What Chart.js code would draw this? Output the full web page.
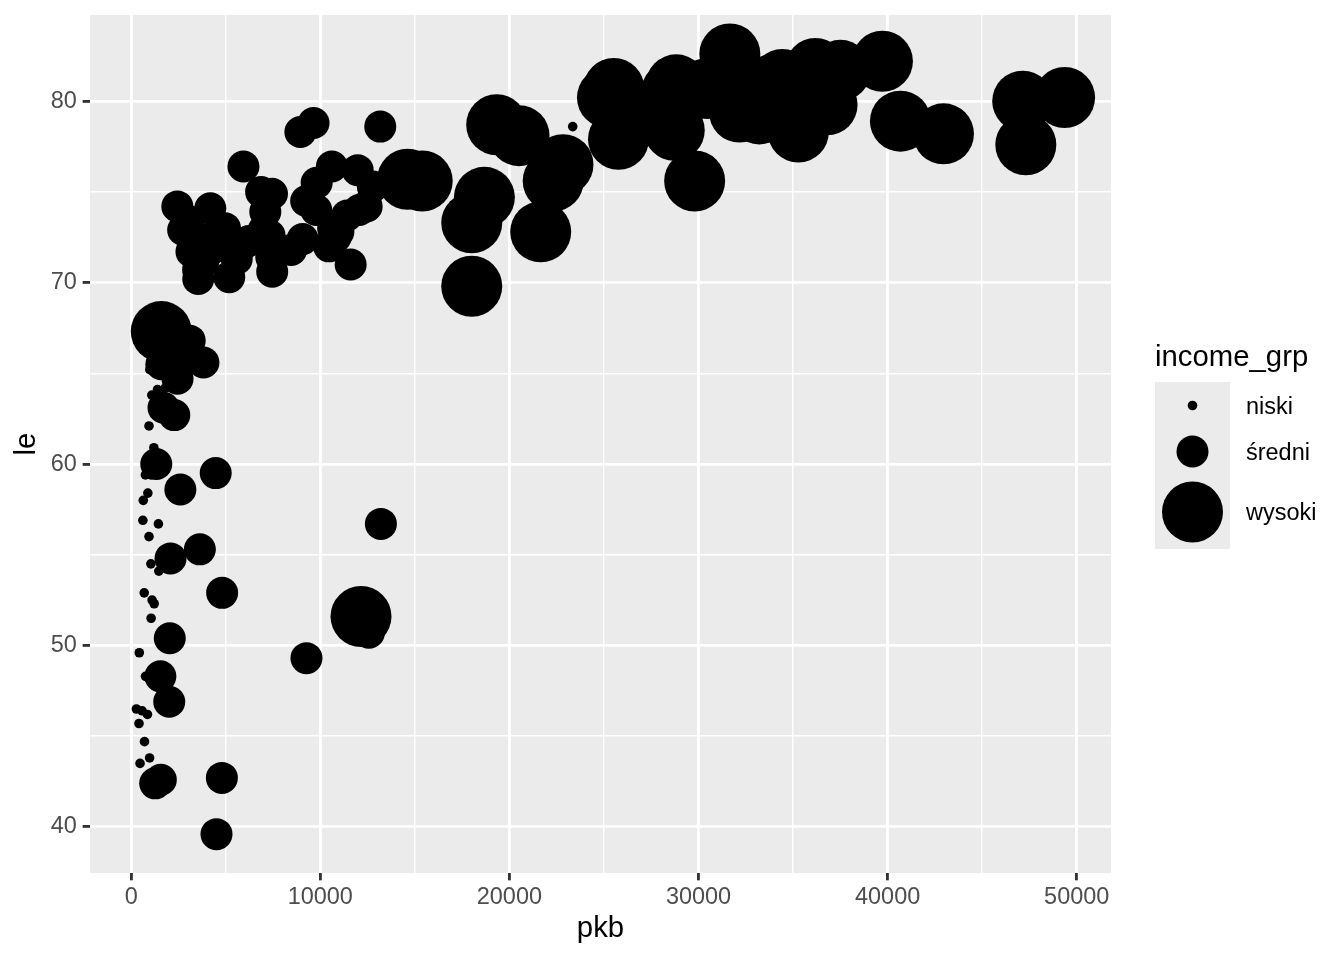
<!DOCTYPE html>
<html>
<head>
<meta charset="utf-8">
<script src="https://cdn.jsdelivr.net/npm/chart.js@4.4.1/dist/chart.umd.min.js"></script>
<style>
html,body{margin:0;padding:0;background:#ffffff;}
#c{display:block;}
</style>
</head>
<body>
<canvas id="c" width="1344" height="960"></canvas>
<script>
// ---------------- DATA ----------------
const groupNames = ['niski', 'średni', 'wysoki'];

const niskiPkb = [278, 415, 470, 430, 579, 706, 863, 975, 824, 863, 759, 926, 691, 1217, 1107, 1056, 1704, 1043, 1463, 943, 620, 1441, 641, 883, 753, 1045, 1202, 1714, 944, 1091, 1391, 1803, 986, 23348];
const niskiLe  = [46.5, 45.7, 43.5, 49.6, 46.4, 44.7, 46.2, 43.8, 42.1, 42.6, 48.3, 48.2, 52.9, 52.3, 52.5, 51.5, 50.7, 54.5, 54.1, 56.0, 56.9, 56.7, 58.0, 58.4, 59.4, 59.4, 60.9, 59.7, 62.1, 63.8, 64.1, 64.2, 65.2, 78.6];

const sredniPkb = [5937, 6223, 4797, 12779, 3822, 7446, 12570, 9066, 10681, 2042, 13172, 4959, 7007, 3633, 9645, 1545, 8948, 2082, 6025, 6873, 5581, 5728, 13206, 1328, 5186, 3548, 2452, 3541, 11606, 4471, 7321, 4519, 10461, 1569, 12058, 12452, 10957, 11978, 3096, 9254, 3820, 4811, 2749, 2014, 2606, 9809, 4173, 7409, 3190, 10808, 1598, 1712, 9787, 9270, 3970, 2602, 4513, 4185, 7458, 7093, 8458, 10611, 11416, 2442, 3025, 2281, 1271];
const sredniLe  = [76.4, 72.3, 42.7, 75.3, 65.6, 74.9, 50.7, 72.4, 73.0, 50.4, 78.6, 73.0, 72.9, 55.3, 78.8, 48.3, 78.3, 54.8, 72.2, 75.0, 71.3, 71.9, 56.7, 60.0, 70.3, 70.2, 64.7, 70.7, 71.0, 59.5, 72.6, 72.5, 72.0, 42.6, 74.0, 74.2, 72.8, 76.2, 66.8, 74.5, 71.2, 52.9, 72.9, 46.9, 65.5, 75.5, 71.8, 71.4, 71.7, 72.5, 65.5, 63.1, 74.0, 49.3, 72.4, 58.6, 39.6, 74.1, 70.6, 73.9, 71.8, 76.4, 73.7, 74.2, 73.4, 62.7, 42.4];

const wysokiPkb = [1593, 12154, 14619, 15390, 18009, 18009, 18678, 19329, 20510, 21655, 22316, 22833, 25185, 25523, 25768, 27538, 28570, 28718, 28821, 29796, 30470, 31656, 32170, 33203, 33207, 33693, 33860, 34435, 35278, 36126, 36181, 36319, 36798, 37506, 39725, 40676, 42952, 47143, 47307, 49357];
const wysokiLe  = [67.3, 51.6, 75.7, 75.6, 73.3, 69.8, 74.7, 78.7, 78.1, 72.8, 75.6, 76.5, 80.2, 80.7, 77.9, 79.5, 80.5, 78.4, 80.9, 75.6, 80.7, 82.6, 79.4, 79.4, 79.3, 79.4, 80.9, 81.2, 78.3, 79.8, 81.8, 80.7, 79.8, 81.7, 82.2, 78.9, 78.2, 80.0, 77.6, 80.2];

const xMajorTicks = [0, 10000, 20000, 30000, 40000, 50000];
const xMinorTicks = [5000, 15000, 25000, 35000, 45000];
const yMajorTicks = [40, 50, 60, 70, 80];
const yMinorTicks = [45, 55, 65, 75];

const xLimits = [-2176, 51811];
const yLimits = [37.46, 84.75];

const xTitle = 'pkb';
const yTitle = 'le';
const legendTitle = 'income_grp';

// ---------------- STYLE ----------------
const FONT = "'Liberation Sans', Arial, Helvetica, sans-serif";
const STYLE = {
  panelBg: '#EBEBEB',
  grid: '#FFFFFF',
  majorW: 2.84,
  minorW: 1.42,
  tickColor: '#333333',
  tickLen: 7.33,
  tickText: '#4D4D4D',
  tickFont: 23.47,
  titleFont: 29.33,
  radii: [4.8, 16, 30.5],
  legend: {
    titleX: 1155, titleY: 366,
    boxX: 1155, boxY: 382, boxW: 75, boxH: 167,
    keyX: 1192.5, keyY: [405.5, 451.5, 512],
    labelX: 1246, labelDy: 8.4
  }
};

function toPoints(xs, ys) { return xs.map((x, i) => ({x: x, y: ys[i]})); }

const seriesX = [niskiPkb, sredniPkb, wysokiPkb];
const seriesY = [niskiLe, sredniLe, wysokiLe];

const datasets = groupNames.map((g, i) => ({
  label: g,
  data: toPoints(seriesX[i], seriesY[i]),
  pointRadius: STYLE.radii[i],
  pointHoverRadius: STYLE.radii[i],
  pointBackgroundColor: '#000000',
  pointBorderWidth: 0,
  pointBorderColor: 'rgba(0,0,0,0)',
  backgroundColor: '#000000',
  borderWidth: 0
}));

const panelBg = {
  id: 'panelBg',
  beforeDraw(chart) {
    const {ctx, chartArea: a} = chart;
    ctx.save();
    ctx.fillStyle = '#ffffff';
    ctx.fillRect(0, 0, chart.width, chart.height);
    ctx.fillStyle = STYLE.panelBg;
    ctx.fillRect(a.left, a.top, a.right - a.left, a.bottom - a.top);
    ctx.restore();
  }
};

const sizeLegend = {
  id: 'sizeLegend',
  afterDraw(chart) {
    const ctx = chart.ctx;
    const L = STYLE.legend;
    ctx.save();
    ctx.fillStyle = '#000000';
    ctx.font = STYLE.titleFont + 'px ' + FONT;
    ctx.textAlign = 'left';
    ctx.textBaseline = 'alphabetic';
    ctx.fillText(legendTitle, L.titleX, L.titleY);
    ctx.fillStyle = STYLE.panelBg;
    ctx.fillRect(L.boxX, L.boxY, L.boxW, L.boxH);
    chart.data.datasets.forEach((ds, i) => {
      ctx.fillStyle = '#000000';
      ctx.beginPath();
      ctx.arc(L.keyX, L.keyY[i], ds.pointRadius, 0, Math.PI * 2);
      ctx.fill();
      ctx.font = STYLE.tickFont + 'px ' + FONT;
      ctx.fillText(ds.label, L.labelX, L.keyY[i] + L.labelDy);
    });
    ctx.restore();
  }
};

function gridOpts(majors) {
  return {
    color: STYLE.grid,
    lineWidth: c => majors.includes(c.tick && c.tick.value) ? STYLE.majorW : STYLE.minorW,
    drawTicks: true,
    tickLength: STYLE.tickLen,
    tickWidth: STYLE.majorW,
    tickColor: c => majors.includes(c.tick && c.tick.value) ? STYLE.tickColor : 'rgba(0,0,0,0)'
  };
}

function noPad(s) { s.paddingTop = 0; s.paddingBottom = 0; s.paddingLeft = 0; s.paddingRight = 0; }

new Chart(document.getElementById('c'), {
  type: 'scatter',
  data: {datasets: datasets},
  options: {
    responsive: false,
    animation: false,
    devicePixelRatio: 1,
    events: [],
    layout: {autoPadding: false, padding: {left: 0, right: 233, top: 15, bottom: 0}},
    plugins: {legend: {display: false}, tooltip: {enabled: false}},
    scales: {
      x: {
        type: 'linear',
        min: xLimits[0], max: xLimits[1],
        afterBuildTicks: s => { s.ticks = xMajorTicks.concat(xMinorTicks).sort((a, b) => a - b).map(v => ({value: v})); },
        afterFit: s => { s.height = 87; noPad(s); },
        border: {display: false},
        grid: gridOpts(xMajorTicks),
        ticks: {
          autoSkip: false, maxRotation: 0, minRotation: 0,
          padding: 5,
          color: STYLE.tickText,
          font: {family: FONT, size: STYLE.tickFont, lineHeight: 1},
          callback: v => xMajorTicks.includes(v) ? String(v) : ''
        },
        title: {
          display: true, text: xTitle, color: '#000000',
          font: {family: FONT, size: STYLE.titleFont, lineHeight: 1},
          padding: {top: 0, bottom: 16.4}
        }
      },
      y: {
        type: 'linear',
        min: yLimits[0], max: yLimits[1],
        afterBuildTicks: s => { s.ticks = yMajorTicks.concat(yMinorTicks).sort((a, b) => a - b).map(v => ({value: v})); },
        afterFit: s => { s.width = 90; noPad(s); },
        border: {display: false},
        grid: gridOpts(yMajorTicks),
        ticks: {
          autoSkip: false,
          padding: 5.87,
          color: STYLE.tickText,
          font: {family: FONT, size: STYLE.tickFont, lineHeight: 1},
          callback: v => yMajorTicks.includes(v) ? String(v) : ''
        },
        title: {
          display: true, text: yTitle, color: '#000000',
          font: {family: FONT, size: STYLE.titleFont, lineHeight: 1},
          padding: {top: 12.5, bottom: 0}
        }
      }
    }
  },
  plugins: [panelBg, sizeLegend]
});
</script>
</body>
</html>
